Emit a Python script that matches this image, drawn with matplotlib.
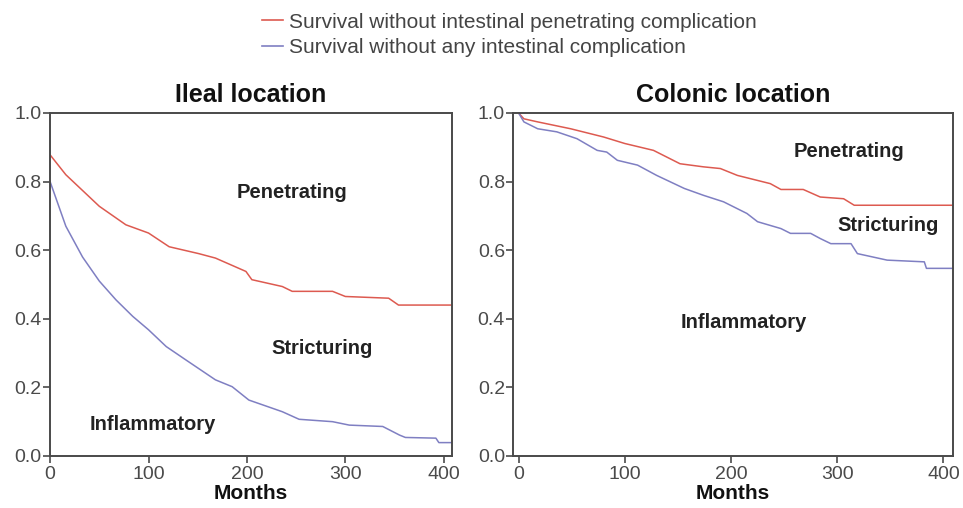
import matplotlib
matplotlib.use("Agg")
import matplotlib.pyplot as plt
from matplotlib.lines import Line2D

plt.rcParams['font.family'] = ['Liberation Sans', 'DejaVu Sans']

# Ileal location
ileal_pen_t = [0, 16, 50, 77, 100, 121, 151, 168, 199, 205, 236, 246, 287, 300, 344, 354, 408]
ileal_pen_s = [0.878, 0.82, 0.728, 0.674, 0.65, 0.61, 0.59, 0.577, 0.538, 0.514, 0.494, 0.48, 0.48, 0.465, 0.46, 0.44, 0.44]
ileal_any_t = [0, 16, 33, 50, 67, 84, 100, 118, 138, 168, 185, 202, 216, 236, 253, 287, 304, 338, 355, 361, 392, 395, 408]
ileal_any_s = [0.80, 0.67, 0.58, 0.51, 0.455, 0.407, 0.368, 0.319, 0.28, 0.222, 0.202, 0.163, 0.149, 0.129, 0.107, 0.10, 0.09, 0.086, 0.061, 0.054, 0.052, 0.039, 0.039]

# Colonic location
col_pen_t = [0, 5, 18, 49, 80, 100, 127, 152, 174, 190, 206, 237, 247, 268, 284, 306, 316, 409]
col_pen_s = [1.0, 0.983, 0.974, 0.954, 0.93, 0.911, 0.891, 0.852, 0.843, 0.838, 0.818, 0.794, 0.777, 0.777, 0.755, 0.75, 0.731, 0.731]
col_any_t = [0, 5, 18, 36, 55, 74, 83, 93, 112, 130, 156, 174, 193, 215, 225, 247, 256, 275, 284, 294, 313, 319, 347, 382, 384, 409]
col_any_s = [1.0, 0.974, 0.954, 0.945, 0.925, 0.891, 0.886, 0.862, 0.848, 0.818, 0.78, 0.76, 0.741, 0.707, 0.683, 0.663, 0.649, 0.649, 0.634, 0.619, 0.619, 0.59, 0.571, 0.566, 0.547, 0.547]

legend_labels = ["Survival without intestinal penetrating complication",
                 "Survival without any intestinal complication"]
titles = ["Ileal location", "Colonic location"]
xticks = [0, 100, 200, 300, 400]
yticks = [0.0, 0.2, 0.4, 0.6, 0.8, 1.0]

RED = '#dd5a50'
BLUE = '#7f7fc2'
GRAY = '#4a4a4a'

fig = plt.figure(figsize=(9.63, 5.08), dpi=100)
ax1 = fig.add_axes([0.052, 0.1024, 0.417, 0.6752])
ax2 = fig.add_axes([0.533, 0.1024, 0.4566, 0.6752])

ax1.plot(ileal_pen_t, ileal_pen_s, color=RED, lw=1.1)
ax1.plot(ileal_any_t, ileal_any_s, color=BLUE, lw=1.1)
ax2.plot(col_pen_t, col_pen_s, color=RED, lw=1.1)
ax2.plot(col_any_t, col_any_s, color=BLUE, lw=1.1)

ax1.set_xlim(0, 408)
ax2.set_xlim(-5, 409)

for ax, title in zip([ax1, ax2], titles):
    ax.set_ylim(0, 1.0)
    ax.set_xticks(xticks)
    ax.set_yticks(yticks)
    ax.set_yticklabels([f"{v:.1f}" for v in yticks])
    ax.tick_params(axis='both', direction='out', length=5, width=1.2, colors=GRAY,
                   labelsize=14)
    ax.tick_params(axis='x', pad=2)
    ax.tick_params(axis='y', pad=1)
    for sp in ax.spines.values():
        sp.set_color(GRAY)
        sp.set_linewidth(1.4)
    ax.set_title(title, fontsize=18, fontweight='bold', pad=8, color='#111111')
    ax.set_xlabel("Months", fontsize=15, fontweight='bold', labelpad=1, color='#111111')

lab_kw = dict(fontsize=14.5, fontweight='bold', ha='center', va='center', color='#222222')
ax1.text(246, 0.767, "Penetrating", **lab_kw)
ax1.text(276, 0.312, "Stricturing", **lab_kw)
ax1.text(104, 0.093, "Inflammatory", **lab_kw)
ax2.text(311, 0.889, "Penetrating", **lab_kw)
ax2.text(348, 0.671, "Stricturing", **lab_kw)
ax2.text(212, 0.388, "Inflammatory", **lab_kw)

handles = [Line2D([], [], color=RED, lw=1.2), Line2D([], [], color=BLUE, lw=1.2)]
fig.legend(handles, legend_labels, loc='upper left', bbox_to_anchor=(0.257, 1.004),
           frameon=False, fontsize=15, handlelength=1.0, handletextpad=0.3,
           labelspacing=0.3, labelcolor='#444444', borderaxespad=0.3)

fig.savefig("out.png", dpi=100)
